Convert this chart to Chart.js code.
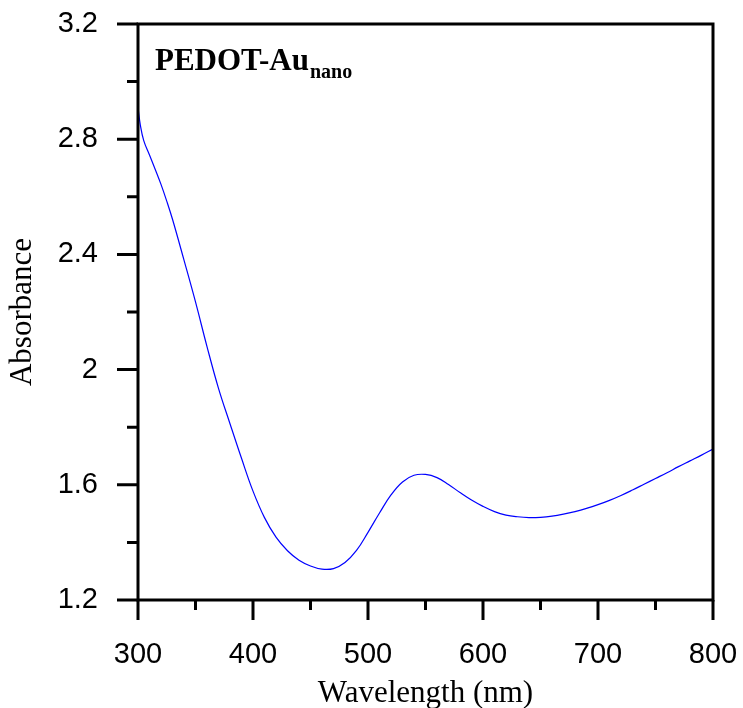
<!DOCTYPE html>
<html>
<head>
<meta charset="utf-8">
<script src="https://cdn.jsdelivr.net/npm/chart.js@4.4.0/dist/chart.umd.min.js"></script>
<style>
  html, body { margin: 0; padding: 0; background: #fff; }
  #uvCanvas { display: block; }
</style>
</head>
<body>
<canvas id="uvCanvas" width="743" height="708"></canvas>
<script>
const uvCanvas = document.getElementById("uvCanvas");

// UV-vis spectrum
const wavelengths = [
  300, 302, 305, 310, 315, 320, 325, 330, 340, 350, 360, 370, 380, 390, 400,
  410, 420, 430, 440, 450, 460, 470, 480, 490, 500, 510, 520, 530, 540, 550,
  560, 570, 580, 590, 600, 610, 620, 630, 640, 650, 660, 670, 680, 690, 700,
  710, 720, 730, 740, 750, 760, 770, 780, 790, 800,
];
const absorbance = [
  2.91, 2.85, 2.795, 2.745, 2.695, 2.643, 2.585, 2.522, 2.38, 2.235, 2.08, 1.935, 1.812, 1.692, 1.578,
  1.486, 1.418, 1.371, 1.338, 1.318, 1.307, 1.309, 1.33, 1.372, 1.435, 1.502, 1.565, 1.61, 1.633, 1.636,
  1.625, 1.601, 1.573, 1.547, 1.525, 1.507, 1.495, 1.489, 1.486, 1.487, 1.491, 1.498, 1.507, 1.518, 1.531,
  1.546, 1.563, 1.582, 1.602, 1.622, 1.642, 1.663, 1.683, 1.703, 1.724,
];

const xTicks = [300, 400, 500, 600, 700, 800];
const xMinorTicks = [350, 450, 550, 650, 750];
const yTicks = [1.2, 1.6, 2, 2.4, 2.8, 3.2];
const yTickLabels = ["1.2", "1.6", "2", "2.4", "2.8", "3.2"];
const yMinorTicks = [1.4, 1.8, 2.2, 2.6, 3.0];

const sampleName = "PEDOT-Au";
const sampleSub = "nano";

// frame, outward tick marks and the sample label
const frameTicks = {
  id: "frameTicks",
  afterDatasetsDraw(chart) {
    const { ctx, chartArea: a, scales: { x, y } } = chart;
    ctx.save();
    ctx.strokeStyle = "#000";
    ctx.lineWidth = 3;
    ctx.strokeRect(a.left, a.top, a.right - a.left, a.bottom - a.top);

    ctx.beginPath();
    xTicks.forEach((v) => {
      const px = x.getPixelForValue(v);
      ctx.moveTo(px, a.bottom);
      ctx.lineTo(px, a.bottom + 20);
    });
    xMinorTicks.forEach((v) => {
      const px = x.getPixelForValue(v);
      ctx.moveTo(px, a.bottom);
      ctx.lineTo(px, a.bottom + 10);
    });
    yTicks.forEach((v) => {
      const py = y.getPixelForValue(v);
      ctx.moveTo(a.left, py);
      ctx.lineTo(a.left - 21, py);
    });
    yMinorTicks.forEach((v) => {
      const py = y.getPixelForValue(v);
      ctx.moveTo(a.left, py);
      ctx.lineTo(a.left - 11, py);
    });
    ctx.stroke();

    ctx.fillStyle = "#000";
    ctx.textBaseline = "alphabetic";
    ctx.textAlign = "left";
    ctx.font = 'bold 31px "Liberation Serif"';
    ctx.fillText(sampleName, a.left + 17, a.top + 46);
    const w = ctx.measureText(sampleName).width;
    ctx.font = 'bold 20px "Liberation Serif"';
    ctx.fillText(sampleSub, a.left + 17 + w + 1, a.top + 54);
    ctx.restore();
  },
};

const uvChart = new Chart(uvCanvas, {
  type: "line",
  data: {
    datasets: [
      {
        label: "PEDOT-Au nano",
        data: wavelengths.map((wl, i) => ({ x: wl, y: absorbance[i] })),
        borderColor: "#0000ff",
        borderWidth: 1.2,
        pointRadius: 0,
        fill: false,
        tension: 0.4,
      },
    ],
  },
  options: {
    responsive: false,
    animation: false,
    layout: {
      padding: { top: 24, right: 30, left: 0, bottom: 0 },
    },
    plugins: {
      legend: { display: false },
      tooltip: { enabled: false },
    },
    scales: {
      x: {
        type: "linear",
        min: 300,
        max: 800,
        grid: { display: false, drawTicks: false },
        border: { display: false },
        afterBuildTicks: (scale) => {
          scale.ticks = xTicks.map((v) => ({ value: v }));
        },
        afterFit: (scale) => {
          scale.height = 108;
          scale.paddingLeft = 0;
          scale.paddingRight = 0;
        },
        ticks: {
          padding: 38,
          color: "#000",
          font: { family: '"Liberation Sans", Arial', size: 29 },
          maxRotation: 0,
        },
        title: {
          display: true,
          text: "Wavelength (nm)",
          color: "#000",
          font: { family: '"Liberation Serif", "Times New Roman"', size: 31 },
          padding: { top: 0, bottom: -4 },
        },
      },
      y: {
        min: 1.2,
        max: 3.2,
        grid: { display: false, drawTicks: false },
        border: { display: false },
        afterBuildTicks: (scale) => {
          scale.ticks = yTicks.map((v) => ({ value: v }));
        },
        afterFit: (scale) => {
          scale.width = 138;
          scale.paddingTop = 0;
          scale.paddingBottom = 0;
        },
        ticks: {
          padding: 40,
          color: "#000",
          font: { family: '"Liberation Sans", Arial', size: 29 },
          callback: (value) => {
            const idx = yTicks.findIndex((t) => Math.abs(t - value) < 1e-6);
            return idx === -1 ? "" : yTickLabels[idx];
          },
        },
        title: {
          display: true,
          text: "Absorbance",
          color: "#000",
          font: { family: '"Liberation Serif", "Times New Roman"', size: 31 },
          padding: { top: 4, bottom: 0 },
        },
      },
    },
  },
  plugins: [frameTicks],
});
</script>
</body>
</html>
